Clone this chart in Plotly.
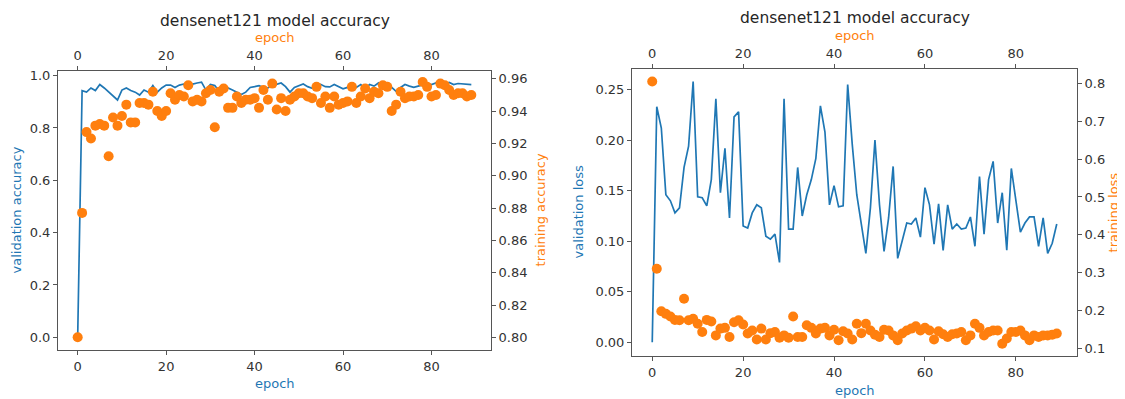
import plotly.graph_objects as go

epochs = list(range(90))

val_acc = [0.0, 0.943, 0.937, 0.953, 0.943, 0.966, 0.953, 0.937, 0.920, 0.907,
           0.945, 0.953, 0.943, 0.937, 0.926, 0.945, 0.937, 0.962, 0.937, 0.953,
           0.964, 0.964, 0.955, 0.964, 0.968, 0.968, 0.968, 0.972, 0.975, 0.945,
           0.966, 0.962, 0.940, 0.945, 0.953, 0.945, 0.937, 0.928, 0.937, 0.955,
           0.958, 0.962, 0.955, 0.953, 0.962, 0.968, 0.972, 0.958, 0.937, 0.955,
           0.962, 0.968, 0.958, 0.952, 0.970, 0.966, 0.958, 0.957, 0.966, 0.958,
           0.950, 0.955, 0.968, 0.955, 0.966, 0.950, 0.966, 0.960, 0.972, 0.950,
           0.972, 0.955, 0.940, 0.955, 0.966, 0.960, 0.955, 0.960, 0.966, 0.970,
           0.966, 0.972, 0.966, 0.968, 0.974, 0.966, 0.970, 0.968, 0.968, 0.966]

train_acc = [0.800, 0.877, 0.927, 0.923, 0.931, 0.932, 0.931, 0.912, 0.936, 0.931,
             0.937, 0.944, 0.933, 0.933, 0.945, 0.945, 0.944, 0.952, 0.940, 0.937,
             0.940, 0.951, 0.947, 0.950, 0.949, 0.956, 0.946, 0.947, 0.946, 0.951,
             0.953, 0.930, 0.952, 0.954, 0.942, 0.942, 0.949, 0.945, 0.947, 0.947,
             0.948, 0.942, 0.953, 0.947, 0.957, 0.941, 0.948, 0.940, 0.947, 0.949,
             0.951, 0.951, 0.949, 0.948, 0.955, 0.945, 0.949, 0.942, 0.949, 0.944,
             0.945, 0.946, 0.955, 0.945, 0.949, 0.954, 0.948, 0.952, 0.951, 0.956,
             0.955, 0.940, 0.944, 0.952, 0.948, 0.949, 0.949, 0.950, 0.958, 0.955,
             0.949, 0.950, 0.957, 0.956, 0.953, 0.950, 0.951, 0.951, 0.949, 0.950]

val_loss = [0.000, 0.233, 0.212, 0.146, 0.140, 0.128, 0.133, 0.173, 0.194, 0.258,
            0.144, 0.143, 0.135, 0.161, 0.241, 0.148, 0.192, 0.123, 0.223, 0.228,
            0.115, 0.113, 0.128, 0.136, 0.133, 0.105, 0.102, 0.107, 0.079, 0.241,
            0.112, 0.112, 0.173, 0.125, 0.146, 0.161, 0.182, 0.234, 0.208, 0.136,
            0.155, 0.134, 0.135, 0.255, 0.196, 0.146, 0.117, 0.088, 0.133, 0.200,
            0.136, 0.090, 0.123, 0.174, 0.083, 0.100, 0.118, 0.117, 0.123, 0.104,
            0.153, 0.136, 0.097, 0.137, 0.091, 0.136, 0.112, 0.117, 0.112, 0.113,
            0.124, 0.095, 0.164, 0.107, 0.161, 0.179, 0.118, 0.148, 0.091, 0.172,
            0.139, 0.109, 0.118, 0.124, 0.124, 0.095, 0.123, 0.088, 0.098, 0.117]

train_loss = [0.805, 0.310, 0.198, 0.191, 0.184, 0.175, 0.174, 0.231, 0.174, 0.178,
              0.165, 0.143, 0.175, 0.171, 0.134, 0.152, 0.154, 0.130, 0.169, 0.174,
              0.163, 0.139, 0.147, 0.123, 0.152, 0.123, 0.140, 0.143, 0.128, 0.134,
              0.128, 0.184, 0.130, 0.130, 0.161, 0.154, 0.139, 0.152, 0.154, 0.134,
              0.149, 0.121, 0.145, 0.139, 0.123, 0.165, 0.140, 0.165, 0.147, 0.136,
              0.130, 0.149, 0.147, 0.134, 0.121, 0.139, 0.147, 0.152, 0.158, 0.147,
              0.154, 0.147, 0.123, 0.145, 0.137, 0.130, 0.137, 0.139, 0.143, 0.121,
              0.134, 0.165, 0.154, 0.134, 0.143, 0.147, 0.147, 0.112, 0.126, 0.143,
              0.143, 0.147, 0.134, 0.121, 0.134, 0.130, 0.134, 0.134, 0.136, 0.139]

x_ticks = [0, 20, 40, 60, 80]
acc_ticks = [0.0, 0.2, 0.4, 0.6, 0.8, 1.0]
tacc_ticks = [0.80, 0.82, 0.84, 0.86, 0.88, 0.90, 0.92, 0.94, 0.96]
loss_ticks = [0.00, 0.05, 0.10, 0.15, 0.20, 0.25]
tloss_ticks = [0.1, 0.2, 0.3, 0.4, 0.5, 0.6, 0.7, 0.8]

title_text = "densenet121 model accuracy"

BLUE = "#1f77b4"
ORANGE = "#ff7f0e"
OFF = 8                      # default page body margin
W, H = 1125 - OFF, 399 - OFF
FONT = "DejaVu Sans"


def px(x):
    return (x - OFF) / W


def py(y):
    return 1 - (y - OFF) / H


fig = go.Figure()
fig.add_trace(go.Scatter(x=epochs, y=val_acc, mode="lines", line=dict(color=BLUE, width=1.7),
                         xaxis="x", yaxis="y", showlegend=False))
fig.add_trace(go.Scatter(x=epochs, y=train_acc, mode="markers", marker=dict(color=ORANGE, size=10),
                         xaxis="x2", yaxis="y2", showlegend=False))
fig.add_trace(go.Scatter(x=epochs, y=val_loss, mode="lines", line=dict(color=BLUE, width=1.7),
                         xaxis="x3", yaxis="y3", showlegend=False))
fig.add_trace(go.Scatter(x=epochs, y=train_loss, mode="markers", marker=dict(color=ORANGE, size=10),
                         xaxis="x4", yaxis="y4", showlegend=False))

common = dict(showgrid=False, zeroline=False, showline=True, linecolor="#555", linewidth=1,
              ticks="outside", ticklen=4, tickcolor="#555",
              tickfont=dict(family=FONT, size=13, color="#333"))

xr = [-4.45, 93.45]
L = (58, 491, 69, 350)      # left, right, top, bottom (page px)
R = (632, 1077, 67, 356)
L_dx, L_dy = [px(L[0]), px(L[1])], [py(L[3]), py(L[2])]
R_dx, R_dy = [px(R[0]), px(R[1])], [py(R[3]), py(R[2])]

fig.update_layout(
    width=W, height=H,
    margin=dict(l=0, r=0, t=0, b=0),
    paper_bgcolor="white", plot_bgcolor="white",
    xaxis=dict(domain=L_dx, anchor="y", range=xr, tickvals=x_ticks, mirror=True, **common),
    xaxis2=dict(domain=L_dx, anchor="y", overlaying="x", side="top", range=xr, tickvals=x_ticks, **common),
    yaxis=dict(domain=L_dy, anchor="x", range=[-0.0494, 1.019], tickvals=acc_ticks, tickformat=".1f",
               mirror=True, **common),
    yaxis2=dict(domain=L_dy, anchor="x", overlaying="y", side="right", range=[0.792, 0.965],
                tickvals=tacc_ticks, tickformat=".2f", **common),
    xaxis3=dict(domain=R_dx, anchor="y3", range=xr, tickvals=x_ticks, mirror=True, **common),
    xaxis4=dict(domain=R_dx, anchor="y3", overlaying="x3", side="top", range=xr, tickvals=x_ticks, **common),
    yaxis3=dict(domain=R_dy, anchor="x3", range=[-0.0138, 0.2707], tickvals=loss_ticks, tickformat=".2f",
                mirror=True, **common),
    yaxis4=dict(domain=R_dy, anchor="x3", overlaying="y3", side="right", range=[0.079, 0.839],
                tickvals=tloss_ticks, tickformat=".1f", **common),
)


def label(text, x, y, color, size=13, angle=0):
    fig.add_annotation(text=text, x=px(x), y=py(y), xref="paper", yref="paper", showarrow=False,
                       xanchor="center", yanchor="middle", textangle=angle,
                       font=dict(family=FONT, size=size, color=color))


lc, rc = (L[0] + L[1]) / 2, (R[0] + R[1]) / 2
label(title_text, lc, 19, "#262626", size=15.5)
label(title_text, rc, 16, "#262626", size=15.5)
label("epoch", lc, 36, ORANGE)
label("epoch", rc, 34, ORANGE)
label("epoch", lc, 383, BLUE)
label("epoch", rc, 390, BLUE)
label("validation accuracy", 16, (L[2] + L[3]) / 2, BLUE, angle=-90)
label("training accuracy", 540, (L[2] + L[3]) / 2, ORANGE, angle=-90)
label("validation loss", 578, (R[2] + R[3]) / 2, BLUE, angle=-90)
label("training loss", 1113, (R[2] + R[3]) / 2, ORANGE, angle=-90)

fig.write_html("out.html")
